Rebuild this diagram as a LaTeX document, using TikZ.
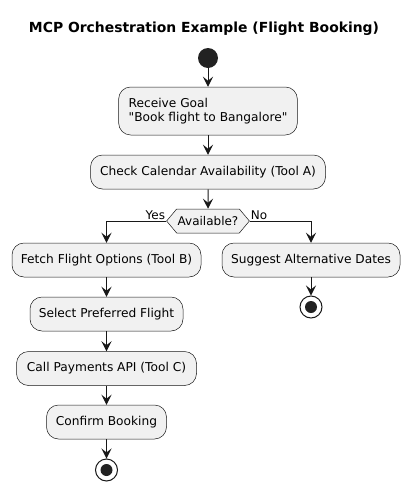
\documentclass[tikz,border=0pt]{standalone}
\usepackage{fontspec}
\setmainfont{DejaVu Sans}
\usetikzlibrary{arrows.meta,shapes.symbols}
\definecolor{boxfill}{HTML}{F1F1F1}
\definecolor{ink}{HTML}{181818}
\definecolor{dot}{HTML}{222222}
\tikzset{
  act/.style={draw=ink, line width=0.5pt, fill=boxfill, rounded corners=12pt, font=\fontsize{12.2}{14.5}\selectfont, inner sep=0pt, minimum height=34pt, align=left},
  arr/.style={draw=ink, line width=1pt, -{Stealth[length=10pt, width=10pt, inset=4pt]}},
  startdot/.style={circle, fill=dot, minimum size=20pt, inner sep=0pt},
  enddot/.style={circle, draw=ink, line width=1pt, fill=white, minimum size=22pt, inner sep=0pt, path picture={\fill[dot] (path picture bounding box.center) circle (6pt);}},
  dec/.style={shape=signal, signal to=west and east, signal pointer angle=100, draw=ink, line width=0.5pt, fill=boxfill, minimum width=80pt, minimum height=24pt, inner sep=1pt, font=\fontsize{12}{14}\selectfont},
  lbl/.style={font=\fontsize{12}{14}\selectfont, inner sep=1pt}
}
\begin{document}
\begin{tikzpicture}[x=1pt,y=-1pt]
\useasboundingbox (0,0) rectangle (409,491);
\node[font=\fontsize{13.9}{16}\selectfont\bfseries] (title) at (204,29) {MCP Orchestration Example (Flight Booking)};
\node[startdot] (start) at (208,58) {};
\node[act, minimum width=176pt, minimum height=48pt, inner xsep=10pt] (goal) at (208,111) {Receive Goal\\\textquotedbl Book flight to Bangalore\textquotedbl};
\node[act, minimum width=235pt] (cal) at (208,172) {Check Calendar Availability (Tool A)};
\node[dec] (avail) at (208,221) {Available?};
\node[act, minimum width=189pt] (fetch) at (106.5,260) {Fetch Flight Options (Tool B)};
\node[act, minimum width=178pt] (sugg) at (311,260) {Suggest Alternative Dates};
\node[enddot] (end2) at (311,307) {};
\node[act, minimum width=153pt] (sel) at (106.5,314) {Select Preferred Flight};
\node[act, minimum width=180pt] (pay) at (106.5,368.5) {Call Payments API (Tool C)};
\node[act, minimum width=120pt] (conf) at (106.5,422) {Confirm Booking};
\node[enddot] (end1) at (106.5,470) {};
\draw[arr] (start) -- (goal);
\draw[arr] (goal) -- (cal);
\draw[arr] (cal) -- (avail);
\draw[arr] (avail.west) -| (fetch.north);
\draw[arr] (avail.east) -| (sugg.north);
\node[lbl, anchor=south east] (yes) at (avail.west) {Yes};
\node[lbl, anchor=south west] (no) at (avail.east) {No};
\draw[arr] (sugg) -- (end2);
\draw[arr] (fetch) -- (sel);
\draw[arr] (sel) -- (pay);
\draw[arr] (pay) -- (conf);
\draw[arr] (conf) -- (end1);
\end{tikzpicture}
\end{document}
